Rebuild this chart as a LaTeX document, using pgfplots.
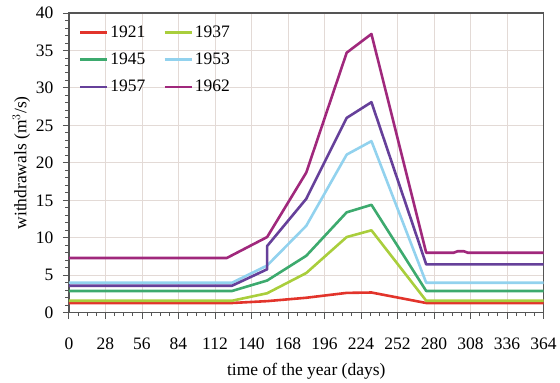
\documentclass[border=0pt]{standalone}
\usepackage{fontspec}
\setmainfont{Liberation Serif}
\usepackage{pgfplots}
\pgfplotsset{compat=1.18}
\definecolor{c21}{HTML}{E2342B}
\definecolor{c37}{HTML}{A9CE3C}
\definecolor{c45}{HTML}{3DAA6E}
\definecolor{c53}{HTML}{92D2EE}
\definecolor{c57}{HTML}{66409A}
\definecolor{c62}{HTML}{A0287C}
\definecolor{gridc}{HTML}{E3DAD6}
\definecolor{axc}{HTML}{555555}
\newcommand{\bigf}{\fontsize{17.5}{20}\selectfont}
\begin{document}
\begin{tikzpicture}
\begin{axis}[
  name=ax,
  scale only axis, width=475pt, height=300pt,
  xmin=0, xmax=364, ymin=0, ymax=40,
  xtick={0,28,...,364}, ytick={0,5,...,40},
  minor x tick num=3, minor y tick num=4,
  tick align=outside, xtick pos=bottom, ytick pos=left,
  major tick length=6pt, minor tick length=3.5pt,
  every tick/.style={axc, line width=0.9pt},
  axis line style={axc, line width=1.3pt},
  grid=major, major grid style={gridc, line width=0.9pt},
  /pgf/number format/assume math mode=true,
  tick label style={font=\bigf},
  label style={font=\bigf},
  xticklabel style={yshift=-16pt},
  yticklabel style={xshift=-6pt},
  xlabel={time of the year (days)},
  ylabel={withdrawals (m$^{3}$/s)},
  xlabel style={yshift=-6pt},
  ylabel style={yshift=-1pt},
  legend columns=2,
  legend cell align=left,
  legend style={at={(0.014,0.97)}, anchor=north west, draw=none, fill=none,
    font=\bigf, nodes={font=\bigf}, row sep=10pt,
    /tikz/every even column/.append style={column sep=16pt}},
  legend image code/.code={\draw[#1, line width=2.6pt] (0pt,0pt) -- (27pt,0pt);},
  every axis plot/.append style={line width=2.6pt, line join=round},
]
\addplot[c21] coordinates {(0,1.3) (125,1.3) (152,1.55) (182,2.0) (213,2.65) (232,2.7) (274,1.3) (364,1.3)};
\addlegendentry{1921}
\addplot[c37] coordinates {(0,1.6) (125,1.6) (152,2.6) (182,5.3) (213,10.1) (232,11.0) (274,1.6) (364,1.6)};
\addlegendentry{1937}
\addplot[c45] coordinates {(0,2.9) (125,2.9) (152,4.3) (182,7.6) (213,13.4) (232,14.4) (274,2.9) (364,2.9)};
\addlegendentry{1945}
\addplot[c53] coordinates {(0,4.0) (125,4.0) (152,6.3) (182,11.6) (213,21.1) (232,22.9) (274,4.0) (364,4.0)};
\addlegendentry{1953}
\addplot[c57] coordinates {(0,3.6) (125,3.6) (152,5.8) (152,8.9) (182,15.2) (213,26.0) (232,28.1) (274,6.45) (364,6.45)};
\addlegendentry{1957}
\addplot[c62] coordinates {(0,7.3) (121,7.3) (152,10.1) (182,18.7) (213,34.7) (232,37.2) (274,8.0) (295,8.0) (298,8.2) (303,8.2) (306,8.0) (364,8.0)};
\addlegendentry{1962}
\end{axis}
\path[use as bounding box] ([shift={(-69pt,-65pt)}]ax.south west) rectangle ([shift={(16pt,13pt)}]ax.north east);
\end{tikzpicture}
\end{document}
